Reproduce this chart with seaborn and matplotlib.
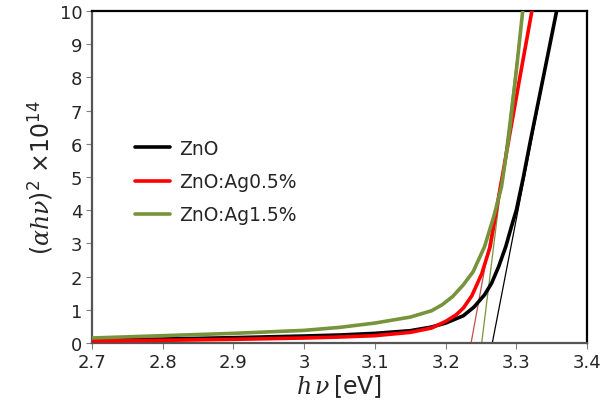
import matplotlib
matplotlib.use("Agg")
import matplotlib.pyplot as plt
import matplotlib.ticker as mticker
import pandas as pd
import seaborn as sns


# photon energy (eV) and (alpha h nu)^2 x 1e-14
ZNO_E = [2.70, 2.80, 2.90, 3.00, 3.05, 3.10, 3.15, 3.18, 3.20, 3.225, 3.24,
         3.255, 3.265, 3.275, 3.285, 3.293, 3.300, 3.310, 3.320, 3.340, 3.357]
ZNO_Y = [0.08, 0.12, 0.16, 0.21, 0.24, 0.29, 0.37, 0.48, 0.60, 0.82, 1.08,
         1.45, 1.80, 2.30, 2.90, 3.50, 4.00, 5.00, 6.10, 8.20, 10.0]

AG05_E = [2.70, 2.80, 2.90, 3.00, 3.05, 3.10, 3.15, 3.18, 3.20, 3.215, 3.225,
          3.237, 3.251, 3.263, 3.275, 3.290, 3.305, 3.322]
AG05_Y = [0.06, 0.08, 0.11, 0.15, 0.18, 0.22, 0.32, 0.45, 0.65, 0.85, 1.05,
          1.42, 2.08, 2.90, 4.40, 6.20, 8.00, 10.0]

AG15_E = [2.70, 2.80, 2.90, 3.00, 3.05, 3.10, 3.15, 3.18, 3.195, 3.21, 3.225,
          3.239, 3.255, 3.268, 3.279, 3.290, 3.299, 3.309]
AG15_Y = [0.15, 0.22, 0.29, 0.38, 0.47, 0.60, 0.78, 0.97, 1.15, 1.40, 1.75,
          2.15, 2.90, 3.80, 4.70, 6.30, 8.00, 10.0]

LABELS = ["ZnO", "ZnO:Ag0.5%", "ZnO:Ag1.5%"]
COLORS = ["#000000", "#ff0000", "#77933c"]
TANGENT_COLORS = ["#000000", "#c0504d", "#77933c"]

# tangent lines: x-intercept (band gap) and x where the line reaches y = 10
GAP_E = [3.266, 3.236, 3.251]
TOP_E = [3.357, 3.322, 3.309]


def build_frame():
    parts = []
    for label, e, y in zip(LABELS, [ZNO_E, AG05_E, AG15_E], [ZNO_Y, AG05_Y, AG15_Y]):
        parts.append(pd.DataFrame({"energy": e, "value": y, "sample": label}))
    return pd.concat(parts, ignore_index=True)


def main():
    sns.set_theme(style="white")
    plt.rcParams["font.family"] = ["DejaVu Sans"]
    plt.rcParams["mathtext.fontset"] = "custom"
    plt.rcParams["mathtext.rm"] = "DejaVu Sans"
    plt.rcParams["mathtext.it"] = "DejaVu Serif:italic"

    df = build_frame()

    fig = plt.figure(figsize=(6.09, 4.10), dpi=100)
    ax = fig.add_axes([0.151, 0.161, 0.813, 0.81])

    # thin tangent lines first, curves on top
    for gap, top, color in zip(GAP_E, TOP_E, TANGENT_COLORS):
        ax.plot([gap, top], [0, 10], color=color, lw=0.9, zorder=2)

    sns.lineplot(
        data=df,
        x="energy",
        y="value",
        hue="sample",
        palette=dict(zip(LABELS, COLORS)),
        linewidth=2.6,
        ax=ax,
        zorder=3,
        sort=False,
    )

    ax.set_xlim(2.7, 3.4)
    ax.set_ylim(0, 10)
    ax.xaxis.set_major_locator(mticker.MultipleLocator(0.1))
    ax.yaxis.set_major_locator(mticker.MultipleLocator(1))
    ax.xaxis.set_major_formatter(mticker.FuncFormatter(lambda v, p: f"{v:.1f}".rstrip("0").rstrip(".")))
    ax.tick_params(axis="both", direction="out", length=4, width=0.8, color="#808080",
                   labelsize=13, bottom=True, left=True, pad=3)

    for side in ["top", "right"]:
        ax.spines[side].set_color("#000000")
        ax.spines[side].set_linewidth(1.6)
    for side in ["left", "bottom"]:
        ax.spines[side].set_color("#555555")
        ax.spines[side].set_linewidth(1.6)

    ax.set_xlabel(r"$h\,\nu\,$[eV]", fontsize=17, labelpad=1)
    ax.set_ylabel(r"$(\alpha h\nu)^2$ ×10$^{14}$", fontsize=17, labelpad=3)

    handles, labels = ax.get_legend_handles_labels()
    ax.legend(handles, labels, loc="upper left", bbox_to_anchor=(0.052, 0.665),
              frameon=False, fontsize=13.5, handlelength=1.9, labelspacing=0.75,
              handletextpad=0.45)

    fig.savefig("out.png", dpi=100)


if __name__ == "__main__":
    main()
